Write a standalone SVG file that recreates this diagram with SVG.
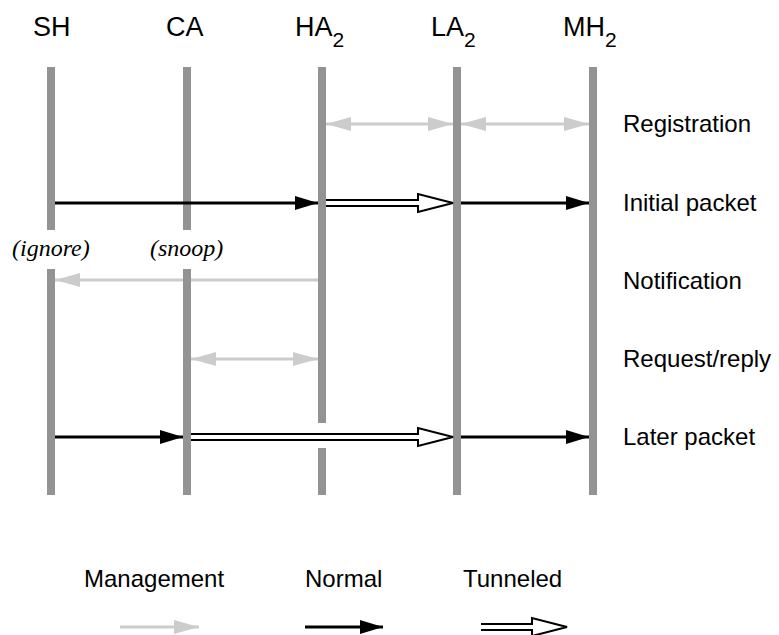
<svg xmlns="http://www.w3.org/2000/svg" width="779" height="635" viewBox="0 0 779 635">
<style>
.hdr{font-family:"Liberation Sans",Arial,sans-serif;font-size:27px;fill:#000}
.sub{font-size:21px}
.lbl{font-family:"Liberation Sans",Arial,sans-serif;font-size:24px;fill:#000}
.note{font-family:"Liberation Serif","Times New Roman",serif;font-style:italic;font-size:24px;fill:#000}
.life{stroke:#939393;stroke-width:8;fill:none}
.mgmt{stroke:#cccccc;stroke-width:3;fill:none}
.norm{stroke:#000;stroke-width:3;fill:none}
.tun{fill:#fff;stroke:#000;stroke-width:2;stroke-linejoin:miter}
</style>
<defs>
<marker id="mEnd" markerUnits="userSpaceOnUse" markerWidth="26" markerHeight="16" refX="25" refY="7" orient="auto"><path d="M0,0 L25,7 L0,14 z" fill="#cccccc"/></marker>
<marker id="mStart" markerUnits="userSpaceOnUse" markerWidth="26" markerHeight="16" refX="0" refY="7" orient="auto"><path d="M25,0 L0,7 L25,14 z" fill="#cccccc"/></marker>
<marker id="nEnd" markerUnits="userSpaceOnUse" markerWidth="24" markerHeight="16" refX="23" refY="7" orient="auto"><path d="M0,0 L23,7 L0,14 z" fill="#000"/></marker>
</defs>
<rect width="779" height="635" fill="#fff"/>

<g id="connectors-management">
<line class="mgmt" x1="318" y1="280" x2="55" y2="280" marker-end="url(#mEnd)"/>
</g>

<g id="node-SH">
<text class="hdr" x="33" y="36">SH</text>
<line class="life" x1="51" y1="67" x2="51" y2="230"/>
<line class="life" x1="51" y1="269" x2="51" y2="495"/>
<text class="note" x="12" y="256">(ignore)</text>
</g>
<g id="node-CA">
<text class="hdr" x="166" y="36">CA</text>
<line class="life" x1="187" y1="67" x2="187" y2="230"/>
<line class="life" x1="187" y1="269" x2="187" y2="495"/>
<text class="note" x="150" y="256">(snoop)</text>
</g>
<g id="node-HA2">
<text class="hdr" x="295" y="36">HA<tspan class="sub" dy="11">2</tspan></text>
<line class="life" x1="322" y1="67" x2="322" y2="423"/>
<line class="life" x1="322" y1="448" x2="322" y2="495"/>
</g>
<g id="node-LA2">
<text class="hdr" x="431" y="36">LA<tspan class="sub" dy="11">2</tspan></text>
<line class="life" x1="457" y1="67" x2="457" y2="495"/>
</g>
<g id="node-MH2">
<text class="hdr" x="563" y="36">MH<tspan class="sub" dy="11">2</tspan></text>
<line class="life" x1="593" y1="67" x2="593" y2="495"/>
</g>

<g id="connectors">
<line class="mgmt" x1="326" y1="124" x2="453" y2="124" marker-start="url(#mStart)" marker-end="url(#mEnd)"/>
<line class="mgmt" x1="461" y1="124" x2="589" y2="124" marker-start="url(#mStart)" marker-end="url(#mEnd)"/>
<line class="norm" x1="55" y1="203" x2="318" y2="203" marker-end="url(#nEnd)"/>
<path class="tun" d="M326,200 L418,200 L418,194 L453,203 L418,212 L418,206 L326,206"/>
<line class="norm" x1="461" y1="203" x2="589" y2="203" marker-end="url(#nEnd)"/>
<line class="mgmt" x1="191" y1="359" x2="318" y2="359" marker-start="url(#mStart)" marker-end="url(#mEnd)"/>
<line class="norm" x1="55" y1="437" x2="183" y2="437" marker-end="url(#nEnd)"/>
<path class="tun" d="M191,434 L418,434 L418,428 L453,437 L418,446 L418,440 L191,440"/>
<line class="norm" x1="461" y1="437" x2="589" y2="437" marker-end="url(#nEnd)"/>
</g>

<g id="row-labels">
<text class="lbl" x="623" y="132">Registration</text>
<text class="lbl" x="623" y="211">Initial packet</text>
<text class="lbl" x="623" y="289">Notification</text>
<text class="lbl" x="623" y="367">Request/reply</text>
<text class="lbl" x="623" y="445">Later packet</text>
</g>

<g id="legend">
<text class="lbl" x="84" y="587">Management</text>
<text class="lbl" x="305" y="587">Normal</text>
<text class="lbl" x="463" y="587">Tunneled</text>
<line class="mgmt" x1="120" y1="627" x2="199" y2="627" marker-end="url(#mEnd)"/>
<line class="norm" x1="305" y1="627" x2="383" y2="627" marker-end="url(#nEnd)"/>
<path class="tun" d="M481,624 L532,624 L532,618 L567,627 L532,636 L532,630 L481,630"/>
</g>
</svg>
